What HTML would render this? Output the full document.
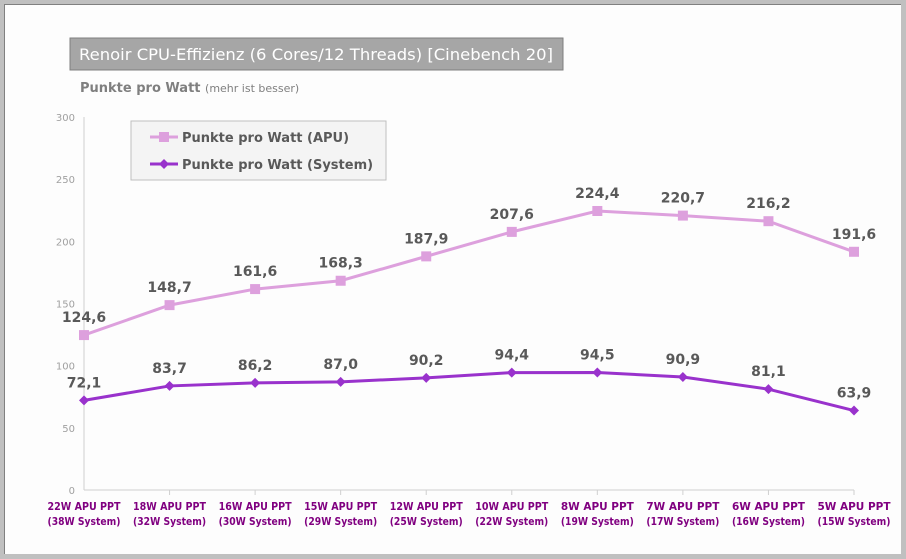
<!DOCTYPE html>
<html><head><meta charset="utf-8"><style>
html,body{margin:0;padding:0;}
body{width:906px;height:559px;background:#c0c0c0;position:relative;overflow:hidden;font-family:"DejaVu Sans","Liberation Sans",sans-serif;}
#frame{position:absolute;left:4px;top:4px;width:897px;height:550px;background:#fdfdfd;border-top:1px solid #808080;border-left:1px solid #808080;box-sizing:border-box;}
</style></head><body>
<div id="frame"></div>
<svg id="chart" width="906" height="559" style="position:absolute;left:0;top:0">
<rect x="70" y="38" width="493" height="32" fill="#a6a6a6" stroke="#7f7f7f"/>
<text x="79" y="60" font-size="16" fill="#fff" textLength="474" lengthAdjust="spacingAndGlyphs">Renoir CPU-Effizienz (6 Cores/12 Threads) [Cinebench 20]</text>
<text x="80" y="92" font-size="13" fill="#7f7f7f" font-weight="bold">Punkte pro Watt <tspan font-size="11" font-weight="normal">(mehr ist besser)</tspan></text>
<g id="axes"></g>
<g id="series"></g>
<g>
<rect x="131" y="121" width="255" height="59" fill="#f4f4f4" stroke="#bfbfbf"/>
<line x1="150" y1="137" x2="178" y2="137" stroke="#dda0dd" stroke-width="3"/>
<rect x="159" y="132" width="10" height="10" fill="#dda0dd"/>
<text x="182" y="142" font-size="13" font-weight="bold" fill="#595959">Punkte pro Watt (APU)</text>
<line x1="150" y1="164" x2="178" y2="164" stroke="#9932cc" stroke-width="3"/>
<polygon points="164,159 169,164 164,169 159,164" fill="#9932cc"/>
<text x="182" y="169" font-size="13" font-weight="bold" fill="#595959">Punkte pro Watt (System)</text>
</g>
</svg>
<script>
const categoriesTop=["22W APU PPT","18W APU PPT","16W APU PPT","15W APU PPT","12W APU PPT","10W APU PPT","8W APU PPT","7W APU PPT","6W APU PPT","5W APU PPT"];
const categoriesBottom=["(38W System)","(32W System)","(30W System)","(29W System)","(25W System)","(22W System)","(19W System)","(17W System)","(16W System)","(15W System)"];
const apuValues=[124.6,148.7,161.6,168.3,187.9,207.6,224.4,220.7,216.2,191.6];
const systemValues=[72.1,83.7,86.2,87.0,90.2,94.4,94.5,90.9,81.1,63.9];
const yTicks=[0,50,100,150,200,250,300];
const NS="http://www.w3.org/2000/svg";
const x0=84,x1=854,yBase=490,yTop=117,yMax=300;
const xs=i=>x0+i*(x1-x0)/(categoriesTop.length-1);
const ys=v=>yBase-(v/yMax)*(yBase-yTop);
const fmt=v=>v.toFixed(1).replace('.',',');
function mk(tag,attrs,parent){const e=document.createElementNS(NS,tag);for(const k in attrs)e.setAttribute(k,attrs[k]);parent.appendChild(e);return e;}
const axes=document.getElementById('axes'),series=document.getElementById('series');
let a=mk('line',{x1:x0,y1:yTop,x2:x0,y2:yBase,stroke:'#d0d0d0'},axes);


a=mk('line',{x1:x0,y1:yBase,x2:x1,y2:yBase,stroke:'#d0d0d0'},axes);


yTicks.forEach(t=>{const e=mk('text',{x:75,y:ys(t)+4,'font-size':'10','text-anchor':'end',fill:'#a0a0a0'},axes);e.textContent=t;

});
categoriesTop.forEach((c,i)=>{const x=xs(i);
if(i>0)mk('line',{x1:x,y1:yBase,x2:x,y2:yBase+5,stroke:'#d0d0d0'},axes);
const e=mk('text',{x:x,y:510,'font-size':'11','text-anchor':'middle',fill:'#800080','font-weight':'bold',textLength:'73',lengthAdjust:'spacingAndGlyphs'},axes);e.textContent=c;


const f=mk('text',{x:x,y:525,'font-size':'11','text-anchor':'middle',fill:'#800080','font-weight':'bold',textLength:'73',lengthAdjust:'spacingAndGlyphs'},axes);f.textContent=categoriesBottom[i];

});
function drawSeries(vals,color,marker,name){
const pts=vals.map((v,i)=>xs(i)+','+ys(v)).join(' ');
const l=mk('polyline',{points:pts,fill:'none',stroke:color,'stroke-width':3},series);


vals.forEach((v,i)=>{const x=xs(i),y=ys(v);let m;
if(marker==='square')m=mk('rect',{x:x-5,y:y-5,width:10,height:10,fill:color},series);
else m=mk('polygon',{points:`${x},${y-5} ${x+5},${y} ${x},${y+5} ${x-5},${y}`,fill:color},series);


const t=mk('text',{x:x,y:y-13,'font-size':'14','font-weight':'bold','text-anchor':'middle',fill:'#595959'},series);t.textContent=fmt(v);

});}
drawSeries(apuValues,'#dda0dd','square','apu');
drawSeries(systemValues,'#9932cc','diamond','system');
</script>
</body></html>
